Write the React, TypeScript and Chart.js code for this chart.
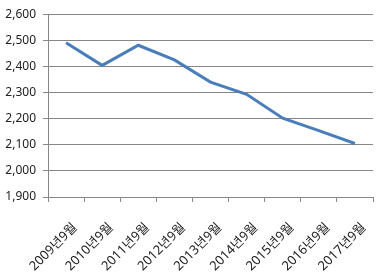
import React, { useEffect, useRef } from "react";
import { Chart, registerables } from "chart.js";

Chart.register(...registerables);

const categories = [
  "2009년9월",
  "2010년9월",
  "2011년9월",
  "2012년9월",
  "2013년9월",
  "2014년9월",
  "2015년9월",
  "2016년9월",
  "2017년9월",
];
const values = [2491, 2404, 2481, 2425, 2340, 2293, 2202, 2154, 2105];
const yMin = 1900;
const yMax = 2600;
const yStep = 100;

export default function App() {
  const ref = useRef<HTMLCanvasElement | null>(null);
  useEffect(() => {
    if (!ref.current) return;
    const font = { family: "'Noto Sans', 'Noto Sans CJK KR', sans-serif", size: 12 };
    const xFont = { family: "'Noto Sans', 'Noto Sans CJK KR', sans-serif", size: 13 };
    const chart = new Chart(ref.current, {
      type: "line",
      data: {
        labels: categories,
        datasets: [
          {
            data: values,
            borderColor: "#4a7ebb",
            borderWidth: 3,
            pointRadius: 0,
            tension: 0,
            fill: false,
          },
        ],
      },
      options: {
        animation: false,
        responsive: false,
        devicePixelRatio: 1,
        layout: { padding: { left: 0, right: 6, top: 13, bottom: 0 } },
        plugins: { legend: { display: false }, tooltip: { enabled: false } },
        scales: {
          x: {
            offset: true,
            grid: {
              offset: true,
              drawOnChartArea: false,
              drawTicks: true,
              tickLength: 5,
              color: "#868686",
            },
            border: { color: "#868686", width: 1 },
            ticks: {
              font: xFont,
              color: "#222",
              maxRotation: 45,
              minRotation: 45,
              autoSkip: false,
              padding: 18,
              labelOffset: 9,
            },
            afterFit: (s: any) => {
              s.height = 75;
              s.paddingRight = 0;
              s.paddingLeft = 0;
            },
          },
          y: {
            min: yMin,
            max: yMax,
            grid: { color: "#868686", tickLength: 5, lineWidth: 1 },
            border: { color: "#868686", width: 1 },
            ticks: {
              stepSize: yStep,
              font,
              color: "#222",
              padding: 7,
              callback: (v: any) => Number(v).toLocaleString("en-US"),
            },
            afterFit: (s: any) => {
              s.width = 48;
            },
          },
        },
      },
    });
    return () => chart.destroy();
  }, []);
  return (
    <div style={{ position: "fixed", left: 0, top: 0, width: 379, height: 272, background: "#fff" }}>
      <canvas ref={ref} width={379} height={272} style={{ width: 379, height: 272 }} />
    </div>
  );
}
